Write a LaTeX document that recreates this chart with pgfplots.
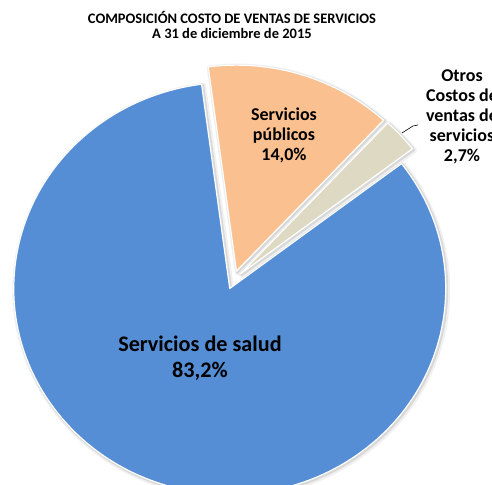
\documentclass[border=0pt]{standalone}
\usepackage{pgfplots}
\pgfplotsset{compat=1.18}
\usepackage{pgfplotstable}
\usepackage{fontspec}
\setmainfont{Carlito}

\definecolor{salud}{HTML}{558ED5}
\definecolor{publicos}{HTML}{FAC090}
\definecolor{otros}{HTML}{DDD9C3}

% participacion en el costo de ventas (%)
\pgfplotstableread{
etiqueta share
publicos 14.0
otros 2.7
salud 83.2
}\costos

% one exploded slice: ox oy startangle endangle colour
\newcommand\slice[5]{%
  \draw[black, opacity=0.06, line width=6pt, line join=round]
    ([shift={(1.5pt,-1.5pt)}]axis cs:#1,#2) -- ++(#3:216pt and 206pt)
    arc[start angle=#3, end angle=#4, x radius=216pt, y radius=206pt] -- cycle;
  \draw[black, opacity=0.10, line width=3pt, line join=round]
    ([shift={(1pt,-1pt)}]axis cs:#1,#2) -- ++(#3:216pt and 206pt)
    arc[start angle=#3, end angle=#4, x radius=216pt, y radius=206pt] -- cycle;
  \filldraw[fill=#5, draw=white, line width=1.2pt, line join=round]
    (axis cs:#1,#2) -- ++(#3:216pt and 206pt)
    arc[start angle=#3, end angle=#4, x radius=216pt, y radius=206pt] -- cycle;
}

\begin{document}
\begin{tikzpicture}
\pgfplotstablegetelem{0}{share}\of\costos\let\vA\pgfplotsretval
\pgfplotstablegetelem{1}{share}\of\costos\let\vB\pgfplotsretval
\pgfplotstablegetelem{2}{share}\of\costos\let\vC\pgfplotsretval
\pgfmathsetmacro\tot{\vA+\vB+\vC}
\pgfmathsetmacro\k{360/\tot}
\pgfmathsetmacro\aA{97.5}
\pgfmathsetmacro\aB{\aA-\k*\vA}
\pgfmathsetmacro\aC{\aB-\k*\vB}
\pgfmathsetmacro\aD{\aC-\k*\vC}
\pgfmathsetmacro\oxA{0.045*cos((\aA+\aB)/2)}
\pgfmathsetmacro\oyA{0.045*sin((\aA+\aB)/2)}
\pgfmathsetmacro\oxB{0.045*cos((\aB+\aC)/2)}
\pgfmathsetmacro\oyB{0.045*sin((\aB+\aC)/2)}
\pgfmathsetmacro\oxC{0.045*cos((\aC+\aD)/2)}
\pgfmathsetmacro\oyC{0.045*sin((\aC+\aD)/2)}
\begin{axis}[
  x=216pt, y=206pt,
  xmin=-1.081, xmax=1.197,
  ymin=-0.995, ymax=1.359,
  hide axis, clip=true
]
\slice{\oxC}{\oyC}{\aC}{\aD}{salud}
\slice{\oxA}{\oyA}{\aA}{\aB}{publicos}
\slice{\oxB}{\oyB}{\aB}{\aC}{otros}

\node[font=\bfseries\fontsize{14.5}{17}\selectfont] at (rel axis cs:0.4715,0.965) {COMPOSICIÓN COSTO DE VENTAS DE SERVICIOS};
\node[font=\bfseries\fontsize{14.5}{17}\selectfont] at (rel axis cs:0.4715,0.930) {A 31 de diciembre de 2015};

\node[font=\bfseries\fontsize{18}{20}\selectfont, align=center] at (rel axis cs:0.5772,0.7216) {Servicios\\públicos\\14,0\%};
\node[font=\bfseries\fontsize{22.2}{26}\selectfont, align=center] at (rel axis cs:0.4065,0.2619) {Servicios de salud\\83,2\%};
\node[font=\bfseries\fontsize{18}{20}\selectfont, align=center] at (rel axis cs:0.939,0.7588) {Otros\\Costos de\\ventas de\\servicios\\2,7\%};
\draw[black, line width=0.6pt] (rel axis cs:0.8171,0.7258) -- (rel axis cs:0.8394,0.7402) -- (rel axis cs:0.8496,0.7423);
\end{axis}
\pgfresetboundingbox
\useasboundingbox (current axis.south west) rectangle (current axis.north east);
\end{tikzpicture}
\end{document}
